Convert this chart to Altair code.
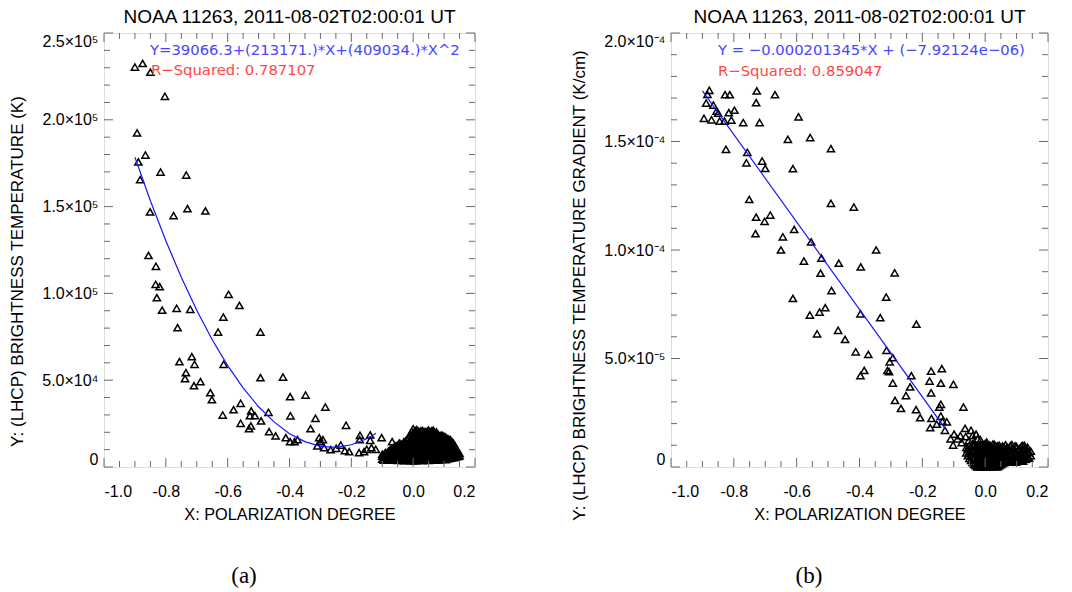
import altair as alt
import pandas as pd

FONT = "Liberation Sans"
ANN_FONT = "DejaVu Sans"
CAP_FONT = "Liberation Serif"
FRAME = "#8f8f8f"
TICK = "#6a6a6a"
W_A, W_B, H = 371, 377, 434

TITLE = "NOAA 11263, 2011-08-02T02:00:01 UT"
XTITLE = "X: POLARIZATION DEGREE"
YTITLE_A = "Y: (LHCP) BRIGHTNESS TEMPERATURE (K)"
YTITLE_B = "Y: (LHCP) BRIGHTNESS TEMPERATURE GRADIENT (K/cm)"
EQ_A = "Y=39066.3+(213171.)*X+(409034.)*X^2"
R2_A = "R−Squared: 0.787107"
EQ_B = "Y = −0.000201345*X + (−7.92124e−06)"
R2_B = "R−Squared: 0.859047"

X_MAJOR = [-1.0, -0.8, -0.6, -0.4, -0.2, 0.0, 0.2]
X_MINOR = [-0.95, -0.9, -0.85, -0.75, -0.7, -0.65, -0.55, -0.5, -0.45,
           -0.35, -0.3, -0.25, -0.15, -0.1, -0.05, 0.05, 0.1, 0.15]
A_Y_MAJOR = [0, 50000, 100000, 150000, 200000, 250000]
A_Y_MINOR = [10000, 20000, 30000, 40000, 60000, 70000, 80000, 90000,
             110000, 120000, 130000, 140000, 160000, 170000, 180000, 190000,
             210000, 220000, 230000, 240000]
B_Y_MAJOR = [0, 5e-5, 1e-4, 1.5e-4, 2e-4]
B_Y_MINOR = [1e-5, 2e-5, 3e-5, 4e-5, 6e-5, 7e-5, 8e-5, 9e-5,
             1.1e-4, 1.2e-4, 1.3e-4, 1.4e-4, 1.6e-4, 1.7e-4, 1.8e-4, 1.9e-4]

# ---- panel (a): brightness temperature ----
a_x = [-0.900, -0.875, -0.850, -0.803, -0.893, -0.866, -0.889, -0.817, -0.734, -0.883,
       -0.851, -0.775, -0.730, -0.672, -0.856, -0.832, -0.833, -0.820, -0.829, -0.597,
       -0.562, -0.812, -0.765, -0.721, -0.614, -0.762, -0.631, -0.494, -0.756, -0.716,
       -0.707, -0.613, -0.735, -0.738, -0.709, -0.688, -0.494, -0.421, -0.656, -0.651,
       -0.398, -0.348, -0.284, -0.616, -0.581, -0.558, -0.524, -0.528, -0.512, -0.492,
       -0.468, -0.397, -0.316, -0.558, -0.531, -0.525, -0.332, -0.217, -0.466, -0.445,
       -0.412, -0.398, -0.384, -0.374, -0.304, -0.292, -0.301, -0.310, -0.288, -0.267,
       -0.249, -0.234, -0.221, -0.207, -0.172, -0.173, -0.139, -0.139, -0.102, -0.175,
       -0.159, -0.150, -0.135, -0.121, -0.068, -0.046, -0.030]
a_y = [230400, 232500, 227400, 213500, 192400, 179700, 175700, 169900, 168200, 165500,
       146900, 144800, 148800, 147500, 121900, 115600, 105200, 103900, 97500, 99500,
       93100, 90300, 91400, 90800, 86400, 80250, 77760, 77760, 60660, 63540,
       59150, 59150, 54320, 50870, 46830, 49140, 51450, 51840, 42800, 38780,
       40500, 41470, 34560, 29950, 33010, 36690, 32260, 29550, 29550, 26500,
       31500, 29500, 28050, 25170, 22080, 23620, 22080, 24000, 20350, 17860,
       16900, 14590, 14590, 15740, 16900, 15740, 14590, 12100, 11130, 9980,
       10750, 12670, 9400, 8830, 18250, 15740, 18440, 15360, 16900, 8250,
       8830, 10180, 11130, 10180, 14590, 12100, 13400]

# dense cluster near zero polarization: column x -> y values
a_cluster = {
    -0.100: [4500, 6200, 7400],
    -0.095: [3900, 5400, 6800],
    -0.090: [4100, 5600, 8300],
    -0.085: [4300, 6300, 8000],
    -0.080: [4800, 6900, 9200],
    -0.075: [4600, 6500, 8600, 9800],
    -0.070: [3900, 5300, 7800, 10400],
    -0.065: [4100, 5900, 7200, 9400, 11000],
    -0.060: [4400, 6100, 8700, 11800],
    -0.055: [4000, 5000, 6800, 8400, 10600, 12200],
    -0.050: [3800, 5700, 7300, 9600, 12600],
    -0.045: [3900, 5600, 7600, 9900, 11900, 13800],
    -0.040: [4300, 6400, 8200, 10900, 13300],
    -0.035: [4100, 5800, 7000, 8700, 10500, 13000],
    -0.030: [3700, 5200, 7600, 9400, 12100, 14500],
    -0.025: [3800, 5400, 6900, 8800, 11000, 13700, 15000],
    -0.020: [4000, 6000, 8000, 10200, 12800, 15900],
    -0.015: [4200, 5800, 7400, 9000, 11200, 13400, 16800],
    -0.010: [3600, 5500, 7100, 9300, 11500, 14200, 18600],
    -0.005: [3900, 5800, 7700, 9600, 12000, 14800, 17300, 20500],
    0.000: [3500, 5100, 6800, 8900, 11000, 13600, 16200, 19300, 22000],
    0.005: [4200, 6300, 8400, 10600, 12900, 15400, 17800, 20600],
    0.010: [3600, 5600, 7500, 9800, 12200, 14700, 17100, 19900, 21500],
    0.015: [4100, 6700, 8800, 11100, 13800, 16300, 18800, 21000],
    0.020: [3900, 6000, 8100, 10400, 12500, 15000, 17600, 20300],
    0.025: [4400, 6600, 8900, 11300, 13300, 15900, 18300, 20800],
    0.030: [3700, 5300, 7200, 9500, 11800, 14100, 16800, 19100, 21000],
    0.035: [4000, 5900, 7800, 10200, 12700, 15100, 17800, 20500],
    0.040: [4100, 6200, 8600, 10900, 13400, 15800, 18400, 20100],
    0.045: [4500, 6700, 9300, 11700, 14100, 16700, 19300, 20600],
    0.050: [3800, 5900, 7900, 10100, 12300, 14900, 17200, 19600, 21300],
    0.055: [4200, 6300, 8400, 10800, 13000, 15600, 18100, 20300],
    0.060: [4300, 6600, 8800, 11100, 13700, 16000, 18700, 20800],
    0.065: [3900, 6000, 7700, 9700, 11900, 14500, 17000, 19900, 21200],
    0.070: [4000, 6100, 8300, 10700, 12600, 15300, 17900, 19500],
    0.075: [4400, 7200, 9600, 12000, 14600, 16800, 18600, 20200],
    0.080: [4500, 6800, 9100, 11400, 14000, 16600, 18900],
    0.085: [4100, 5900, 7800, 10000, 12100, 13500, 15200, 17900],
    0.090: [4200, 6400, 8500, 10300, 12800, 15600, 17400, 18300],
    0.095: [4600, 6700, 8900, 11000, 13600, 16100, 18100],
    0.100: [4700, 7000, 9300, 11700, 14300, 16900, 17700],
    0.105: [4300, 6200, 8100, 10600, 12900, 15500, 17200],
    0.110: [4900, 7300, 9900, 12400, 15100, 16400],
    0.115: [4800, 6600, 8800, 11300, 13700, 16000],
    0.120: [5200, 7700, 10500, 13000, 15800],
    0.125: [5300, 7200, 9400, 12000, 14600],
    0.130: [5600, 8200, 11200, 13800],
    0.135: [5600, 7600, 9800, 12300],
    0.140: [6000, 8800, 10500],
    0.145: [6100, 8300],
    0.150: [6400, 7900],
}

a_fit_x = [-0.90, -0.85, -0.80, -0.75, -0.70, -0.65, -0.60, -0.55, -0.50,
           -0.45, -0.40, -0.35, -0.30, -0.25, -0.20, -0.15, -0.12]
a_fit_y = [178500, 153400, 130300, 109300, 90300, 73300, 58400, 45600, 34700,
           26000, 19200, 14600, 11900, 11300, 12800, 16300, 19400]

# ---- panel (b): brightness temperature gradient ----
b_x = [-0.878, -0.884, -0.888, -0.865, -0.855, -0.850, -0.895, -0.871, -0.845, -0.830,
       -0.816, -0.798, -0.808, -0.828, -0.813, -0.727, -0.729, -0.669, -0.770, -0.718,
       -0.594, -0.825, -0.757, -0.760, -0.710, -0.700, -0.628, -0.557, -0.491, -0.612,
       -0.751, -0.729, -0.702, -0.684, -0.731, -0.491, -0.418, -0.608, -0.644, -0.650,
       -0.554, -0.521, -0.577, -0.524, -0.466, -0.396, -0.347, -0.288, -0.489, -0.612,
       -0.315, -0.558, -0.527, -0.509, -0.535, -0.468, -0.446, -0.397, -0.334, -0.219,
       -0.412, -0.372, -0.314, -0.294, -0.304, -0.385, -0.397, -0.311, -0.306, -0.294,
       -0.235, -0.239, -0.252, -0.287, -0.268, -0.220, -0.207, -0.172, -0.138, -0.177,
       -0.141, -0.101, -0.172, -0.141, -0.146, -0.069, -0.171, -0.141, -0.175, -0.154,
       -0.136, -0.122, -0.128, -0.099, -0.064, -0.102, -0.079, -0.045, -0.029, -0.024,
       -0.088, -0.075, -0.062, -0.052, -0.040, -0.035, -0.015, -0.008, 0.005, -0.110]
b_y = [17.36e-5, 17.17e-5, 16.77e-5, 16.68e-5, 16.40e-5, 16.31e-5, 16.07e-5, 16.00e-5, 15.94e-5, 15.94e-5,
       16.33e-5, 16.44e-5, 15.99e-5, 17.16e-5, 17.16e-5, 17.33e-5, 16.79e-5, 17.16e-5, 15.87e-5, 15.87e-5,
       16.14e-5, 14.64e-5, 14.50e-5, 14.02e-5, 14.10e-5, 13.76e-5, 15.10e-5, 15.18e-5, 14.67e-5, 13.75e-5,
       12.33e-5, 11.51e-5, 11.32e-5, 11.61e-5, 10.75e-5, 12.15e-5, 11.98e-5, 10.95e-5, 10.61e-5, 10.00e-5,
       10.37e-5, 9.63e-5, 9.49e-5, 8.93e-5, 9.39e-5, 9.22e-5, 10.00e-5, 8.95e-5, 8.13e-5, 7.77e-5,
       7.83e-5, 7.00e-5, 7.14e-5, 7.34e-5, 6.14e-5, 6.30e-5, 5.88e-5, 7.06e-5, 6.88e-5, 6.58e-5,
       5.31e-5, 5.19e-5, 5.38e-5, 5.04e-5, 4.85e-5, 4.45e-5, 4.21e-5, 4.45e-5, 4.40e-5, 3.87e-5,
       4.21e-5, 3.69e-5, 3.29e-5, 3.07e-5, 2.70e-5, 2.64e-5, 2.27e-5, 4.42e-5, 4.53e-5, 3.96e-5,
       3.86e-5, 3.81e-5, 3.42e-5, 2.89e-5, 2.76e-5, 2.76e-5, 2.24e-5, 2.35e-5, 1.81e-5, 1.97e-5,
       2.10e-5, 2.08e-5, 1.69e-5, 1.51e-5, 1.78e-5, 1.01e-5, 1.44e-5, 1.69e-5, 1.51e-5, 1.30e-5,
       1.30e-5, 1.12e-5, 1.40e-5, 1.22e-5, 1.45e-5, 1.10e-5, 1.25e-5, 1.05e-5, 1.15e-5, 1.30e-5]

b_cluster = {
    -0.060: [6.5e-6, 9.0e-6],
    -0.055: [5.2e-6, 8.4e-6],
    -0.050: [4.0e-6, 7.2e-6, 10.1e-6],
    -0.045: [3.0e-6, 6.1e-6, 9.2e-6],
    -0.040: [2.1e-6, 5.0e-6, 8.1e-6, 10.6e-6],
    -0.035: [1.2e-6, 4.4e-6, 7.4e-6, 9.9e-6],
    -0.030: [0.6e-6, 3.2e-6, 6.0e-6, 8.8e-6],
    -0.025: [0.0, 1.9e-6, 4.1e-6, 6.8e-6, 9.3e-6],
    -0.020: [0.0, 2.4e-6, 4.7e-6, 7.3e-6, 9.6e-6],
    -0.015: [0.9e-6, 3.6e-6, 6.2e-6, 8.7e-6, 10.5e-6],
    -0.010: [0.3e-6, 2.9e-6, 5.5e-6, 8.0e-6, 10.2e-6],
    -0.005: [0.0, 1.2e-6, 3.4e-6, 5.9e-6, 7.3e-6, 9.6e-6],
    0.000: [0.0, 1.8e-6, 4.2e-6, 6.6e-6, 9.1e-6, 10.8e-6],
    0.005: [0.0, 2.5e-6, 4.9e-6, 7.0e-6, 8.6e-6, 10.4e-6],
    0.010: [0.5e-6, 3.0e-6, 5.4e-6, 7.9e-6, 9.9e-6],
    0.015: [0.2e-6, 1.5e-6, 3.9e-6, 6.3e-6, 8.9e-6, 10.1e-6],
    0.020: [0.0, 2.2e-6, 4.8e-6, 7.1e-6, 9.5e-6],
    0.025: [0.4e-6, 3.1e-6, 5.7e-6, 8.2e-6, 10.6e-6],
    0.030: [0.8e-6, 3.5e-6, 6.0e-6, 8.6e-6, 10.3e-6],
    0.035: [0.0, 2.0e-6, 4.5e-6, 7.0e-6, 9.4e-6],
    0.040: [0.2e-6, 2.6e-6, 5.1e-6, 7.5e-6, 9.7e-6],
    0.045: [0.6e-6, 3.2e-6, 5.8e-6, 8.3e-6, 10.0e-6],
    0.050: [1.1e-6, 3.8e-6, 6.3e-6, 8.9e-6],
    0.055: [1.6e-6, 4.3e-6, 7.0e-6, 9.6e-6],
    0.060: [2.0e-6, 4.5e-6, 6.9e-6, 9.3e-6],
    0.065: [2.6e-6, 5.6e-6, 8.1e-6, 10.2e-6],
    0.070: [2.8e-6, 5.2e-6, 7.7e-6, 9.0e-6],
    0.075: [3.4e-6, 6.2e-6, 8.6e-6],
    0.080: [2.3e-6, 4.9e-6, 7.4e-6, 9.8e-6],
    0.085: [3.0e-6, 5.8e-6, 8.4e-6, 10.3e-6],
    0.090: [3.1e-6, 5.6e-6, 8.2e-6],
    0.095: [2.2e-6, 4.6e-6, 7.2e-6, 9.7e-6],
    0.100: [2.5e-6, 4.4e-6, 6.8e-6, 9.4e-6],
    0.105: [3.7e-6, 5.5e-6, 8.0e-6],
    0.110: [3.4e-6, 5.9e-6, 8.5e-6],
    0.115: [2.9e-6, 4.9e-6, 7.1e-6, 9.6e-6],
    0.120: [2.7e-6, 5.0e-6, 7.6e-6, 9.9e-6],
    0.125: [3.5e-6, 6.0e-6, 8.3e-6, 10.0e-6],
    0.130: [3.6e-6, 6.2e-6, 8.7e-6],
    0.135: [4.5e-6, 7.0e-6, 9.1e-6],
    0.140: [4.1e-6, 6.6e-6],
    0.145: [5.2e-6, 7.3e-6],
}

b_fit_x = [-0.90, -0.125]
b_fit_y = [17.33e-5, 1.725e-5]

A_LABELS = ("datum.value < 25000 ? '0' : datum.value < 75000 ? '5.0×10⁴' : "
            "datum.value < 125000 ? '1.0×10⁵' : datum.value < 175000 ? '1.5×10⁵' : "
            "datum.value < 225000 ? '2.0×10⁵' : '2.5×10⁵'")
B_LABELS = ("datum.value < 2.5e-5 ? '0' : datum.value < 7.5e-5 ? '5.0×10⁻⁵' : "
            "datum.value < 1.25e-4 ? '1.0×10⁻⁴' : datum.value < 1.75e-4 ? '1.5×10⁻⁴' : '2.0×10⁻⁴'")
X_LABELS = "datum.value < -0.05 ? '-' + format(-datum.value, '.1f') : format(datum.value, '.1f')"


def expand(xs, ys, cluster):
    px, py = list(xs), list(ys)
    for cx, cys in cluster.items():
        for cy in cys:
            px.append(cx)
            py.append(cy)
    return pd.DataFrame({"x": px, "y": py})


def text_layer(txt, x, y, font, size, color, align="left", baseline="middle"):
    return alt.Chart(pd.DataFrame({"t": [txt]})).mark_text(
        font=font, fontSize=size, color=color, align=align, baseline=baseline
    ).encode(text="t:N", x=alt.value(x), y=alt.value(y))


def panel(df, fit_x, fit_y, y_dom, y_major, y_minor, y_labels, y_title,
          y_title_x, y_title_y, eq, r2, cap, cap_x, width, guard):
    xsc = alt.Scale(domain=[-1.0, 0.2], nice=False, zero=False)
    ysc = alt.Scale(domain=y_dom, nice=False, zero=False)
    xaxis = alt.Axis(values=X_MAJOR, labelExpr=X_LABELS, ticks=False, tickSize=0,
                     domain=False, grid=False, labelFont=FONT, labelFontSize=16,
                     labelColor="black", labelPadding=16, title=XTITLE,
                     titleFont=FONT, titleFontSize=16.3, titleFontWeight="normal",
                     titleColor="black", titleY=47, titleBaseline="middle")
    yaxis = alt.Axis(values=y_major, labelExpr=y_labels, ticks=False, tickSize=0,
                     domain=False, grid=False, labelFont=FONT, labelFontSize=16,
                     labelColor="black", labelPadding=6, labelFlush=True,
                     title=y_title, titleFont=FONT, titleFontSize=17,
                     titleFontWeight="normal", titleColor="black", titleAngle=270,
                     titleX=y_title_x, titleY=y_title_y, titleAlign="center",
                     titleBaseline="middle")
    X = lambda f: alt.X(f, scale=xsc, axis=xaxis)
    Y = lambda f: alt.Y(f, scale=ysc, axis=yaxis)

    pts = alt.Chart(df).mark_point(
        shape="triangle-up", filled=False, color="black", size=52,
        strokeWidth=1.5, opacity=1
    ).encode(x=X("x:Q"), y=Y("y:Q"))
    fit = alt.Chart(pd.DataFrame({"x": fit_x, "y": fit_y})).mark_line(
        color="#1414ff", strokeWidth=1.2
    ).encode(x=X("x:Q"), y=Y("y:Q"))

    layers = [pts]
    for vals, ln in [(X_MAJOR, 9), (X_MINOR, 6)]:
        d = pd.DataFrame({"x": vals})
        layers.append(alt.Chart(d).mark_rule(color=TICK, strokeWidth=1).encode(
            x=X("x:Q"), y=alt.value(H), y2=alt.value(H - ln)))
        layers.append(alt.Chart(d).mark_rule(color=TICK, strokeWidth=1).encode(
            x=X("x:Q"), y=alt.value(0), y2=alt.value(ln)))
    for vals, ln in [(y_major, 9), (y_minor, 6)]:
        d = pd.DataFrame({"y": vals})
        layers.append(alt.Chart(d).mark_rule(color=TICK, strokeWidth=1).encode(
            y=Y("y:Q"), x=alt.value(0), x2=alt.value(ln)))
        layers.append(alt.Chart(d).mark_rule(color=TICK, strokeWidth=1).encode(
            y=Y("y:Q"), x=alt.value(width), x2=alt.value(width - ln)))
    layers.append(fit)
    layers.append(text_layer(eq[0], eq[1], eq[2], ANN_FONT, 14.8, "#4646ff"))
    layers.append(text_layer(r2[0], r2[1], r2[2], ANN_FONT, 14.8, "#ff4646"))
    layers.append(text_layer(TITLE, width / 2, -10, FONT, 19, "black",
                             align="center", baseline="alphabetic"))
    layers.append(text_layer(cap, cap_x, 543, CAP_FONT, 23, "black",
                             align="center"))
    if guard:
        layers.append(alt.Chart(pd.DataFrame({"t": [0]})).mark_rule(
            color="white", strokeWidth=1).encode(
            x=alt.value(-102.5), y=alt.value(-31.5), y2=alt.value(H + 125.5)))
    return alt.layer(*layers).properties(width=width, height=H)


left = panel(expand(a_x, a_y, a_cluster), a_fit_x, a_fit_y, [0, 250000],
             A_Y_MAJOR, A_Y_MINOR, A_LABELS, YTITLE_A, -87, 238,
             (EQ_A, 46, 18), (R2_A, 47, 38), "(a)", 140, W_A, True)
right = panel(expand(b_x, b_y, b_cluster), b_fit_x, b_fit_y, [0, 2e-4],
              B_Y_MAJOR, B_Y_MINOR, B_LABELS, YTITLE_B, -92, 252,
              (EQ_B, 47, 18), (R2_B, 47, 39), "(b)", 138, W_B, False)

chart = alt.hconcat(left, right, spacing=196, bounds="flush").properties(
    padding=0
).configure_view(stroke=FRAME, strokeWidth=1.2).configure(background="white")

chart.save("out.html", embed_options={"renderer": "svg", "actions": False})
